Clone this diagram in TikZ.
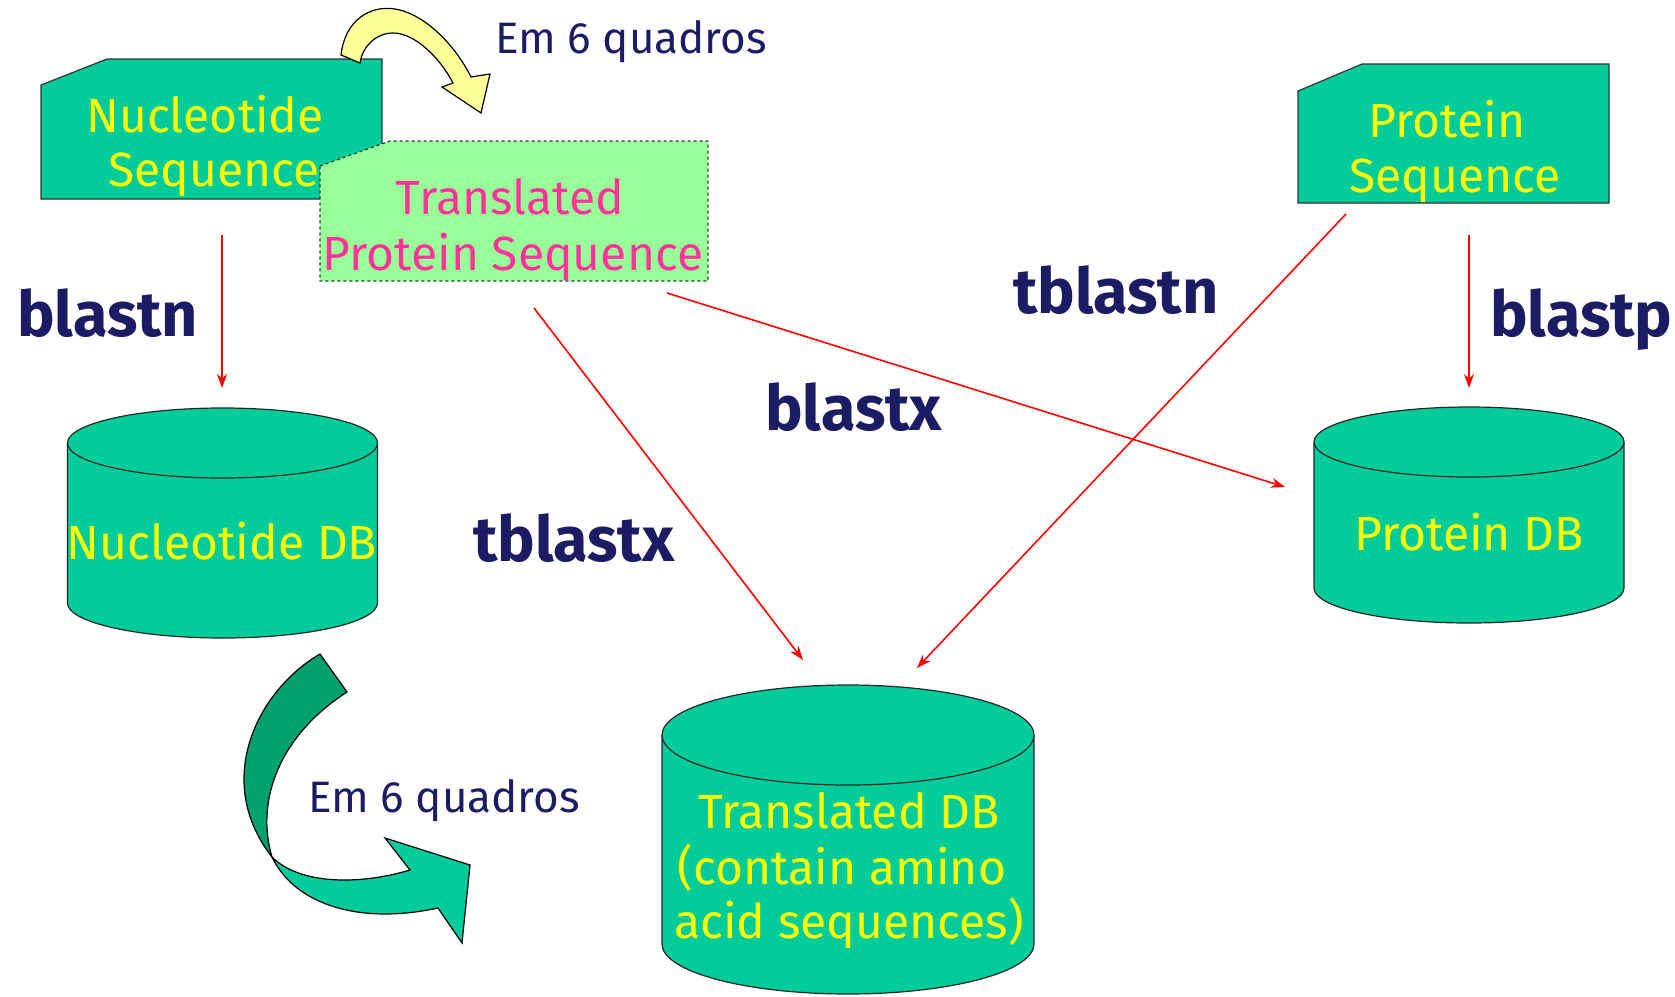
\documentclass[tikz,border=0pt]{standalone}
\usepackage{fontspec}
\setmainfont{Fira Sans}
\usetikzlibrary{arrows.meta}
\definecolor{cardgreen}{RGB}{0,204,153}
\definecolor{darkgreen}{RGB}{0,160,112}
\definecolor{lightgreen}{RGB}{153,255,153}
\definecolor{lyellow}{RGB}{255,255,153}
\definecolor{navy}{RGB}{28,28,100}
\definecolor{pinktext}{RGB}{255,51,153}
\definecolor{txtyellow}{RGB}{255,255,0}
\tikzset{
  card/.style={fill=cardgreen,draw=black!80,line width=1.2pt,line join=miter},
  tcard/.style={fill=lightgreen,draw=black!80,line width=1.2pt,dashed},
  db/.style={fill=cardgreen,draw=black!85,line width=1.2pt},
  ytext/.style={text=txtyellow,font=\fontsize{48}{52}\selectfont,inner sep=0pt,anchor=base},
  ptext/.style={text=pinktext,font=\fontsize{48}{52}\selectfont,inner sep=0pt,anchor=base},
  tool/.style={text=navy,font=\fontsize{63}{67}\selectfont\bfseries,inner sep=0pt,anchor=base west},
  em/.style={text=navy,font=\fontsize{44}{48}\selectfont,inner sep=0pt,anchor=base west},
  link/.style={draw=red,line width=1.6pt,-{Stealth[length=14pt,width=10pt]}},
  curvy/.style={draw=black,line width=1.2pt,line join=miter}
}
\begin{document}
\begin{tikzpicture}[x=1pt,y=1pt]
\useasboundingbox (0,0) rectangle (1675,-996);

% Nucleotide sequence card
\draw[card] (41,-85) -- (107,-59) -- (382,-59) -- (382,-199) -- (41,-199) -- cycle;
\node[ytext] (ns1) at (205,-132) {Nucleotide};
\node[ytext] (ns2) at (214,-186) {Sequence};

% Translated protein sequence card
\draw[tcard] (320,-166) -- (390,-141) -- (708,-141) -- (708,-281) -- (320,-281) -- cycle;
\node[ptext] (tp1) at (510,-214) {Translated};
\node[ptext] (tp2) at (513,-270) {Protein Sequence};

% Protein sequence card
\draw[card] (1298,-91) -- (1362,-64) -- (1609,-64) -- (1609,-203) -- (1298,-203) -- cycle;
\node[ytext] (ps1) at (1447,-137) {Protein};
\node[ytext] (ps2) at (1455,-192) {Sequence};

% yellow curved arrow
\draw[curvy,fill=lyellow] (341,-55) .. controls (345,-20) and (370,-5) .. (395,-9)
  .. controls (425,-14) and (455,-45) .. (471,-77) -- (490,-74) -- (481,-113) -- (442,-87) -- (453,-83)
  .. controls (440,-58) and (415,-33) .. (393,-33)
  .. controls (375,-33) and (362,-48) .. (360,-63) -- cycle;
\node[em] (em1) at (495,-53) {Em 6 quadros};

% Nucleotide DB cylinder
\draw[db] (67.5,-443) -- (67.5,-603) arc[start angle=180,end angle=360,x radius=155pt,y radius=35pt] -- (377.5,-443);
\draw[db] (222.5,-443) ellipse[x radius=155pt,y radius=35pt];
\node[ytext] (ndb) at (222,-559) {Nucleotide DB};

% Protein DB cylinder
\draw[db] (1314,-442) -- (1314,-588) arc[start angle=180,end angle=360,x radius=155pt,y radius=35pt] -- (1624,-442);
\draw[db] (1469,-442) ellipse[x radius=155pt,y radius=35pt];
\node[ytext] (pdb) at (1469,-550) {Protein DB};

% Translated DB cylinder
\draw[db] (662,-735) -- (662,-944) arc[start angle=180,end angle=360,x radius=186pt,y radius=50pt] -- (1034,-735);
\draw[db] (848,-735) ellipse[x radius=186pt,y radius=50pt];
\node[ytext] (tdb1) at (849,-828) {Translated DB};
\node[ytext] (tdb2) at (842,-884) {(contain amino};
\node[ytext] (tdb3) at (849,-938) {acid sequences)};

% green curved arrow
\draw[curvy,fill=darkgreen] (320,-654) .. controls (258,-690) and (212,-780) .. (272,-857)
  .. controls (255,-800) and (280,-735) .. (347,-692) -- cycle;
\draw[curvy,fill=cardgreen] (272,-857) .. controls (295,-905) and (360,-925) .. (438,-908)
  -- (462,-943) -- (470,-865) -- (385,-838) -- (410,-870)
  .. controls (360,-885) and (300,-885) .. (272,-857) -- cycle;
\node[em] (em2) at (308,-812) {Em 6 quadros};

% connector end points
\coordinate (nsOut) at (222,-235);
\coordinate (ndbIn) at (222,-388);
\coordinate (psOut) at (1469,-235);
\coordinate (pdbIn) at (1469,-388);
\coordinate (tpOutA) at (534,-308);
\coordinate (tdbInA) at (803,-660);
\coordinate (tpOutB) at (667,-293);
\coordinate (pdbInB) at (1285,-487);
\coordinate (psOutB) at (1346,-214);
\coordinate (tdbInB) at (917,-668);

\draw[link] (nsOut) -- (ndbIn);
\draw[link] (psOut) -- (pdbIn);
\draw[link] (tpOutA) -- (tdbInA);
\draw[link] (tpOutB) -- (pdbInB);
\draw[link] (psOutB) -- (tdbInB);

% tool labels
\node[tool] (lblastn) at (17,-336) {blastn};
\node[tool] (lblastp) at (1490,-336) {blastp};
\node[tool] (ltblastn) at (1013,-313) {tblastn};
\node[tool] (lblastx) at (765,-430) {blastx};
\node[tool] (ltblastx) at (473,-561) {tblastx};
\end{tikzpicture}
\end{document}
